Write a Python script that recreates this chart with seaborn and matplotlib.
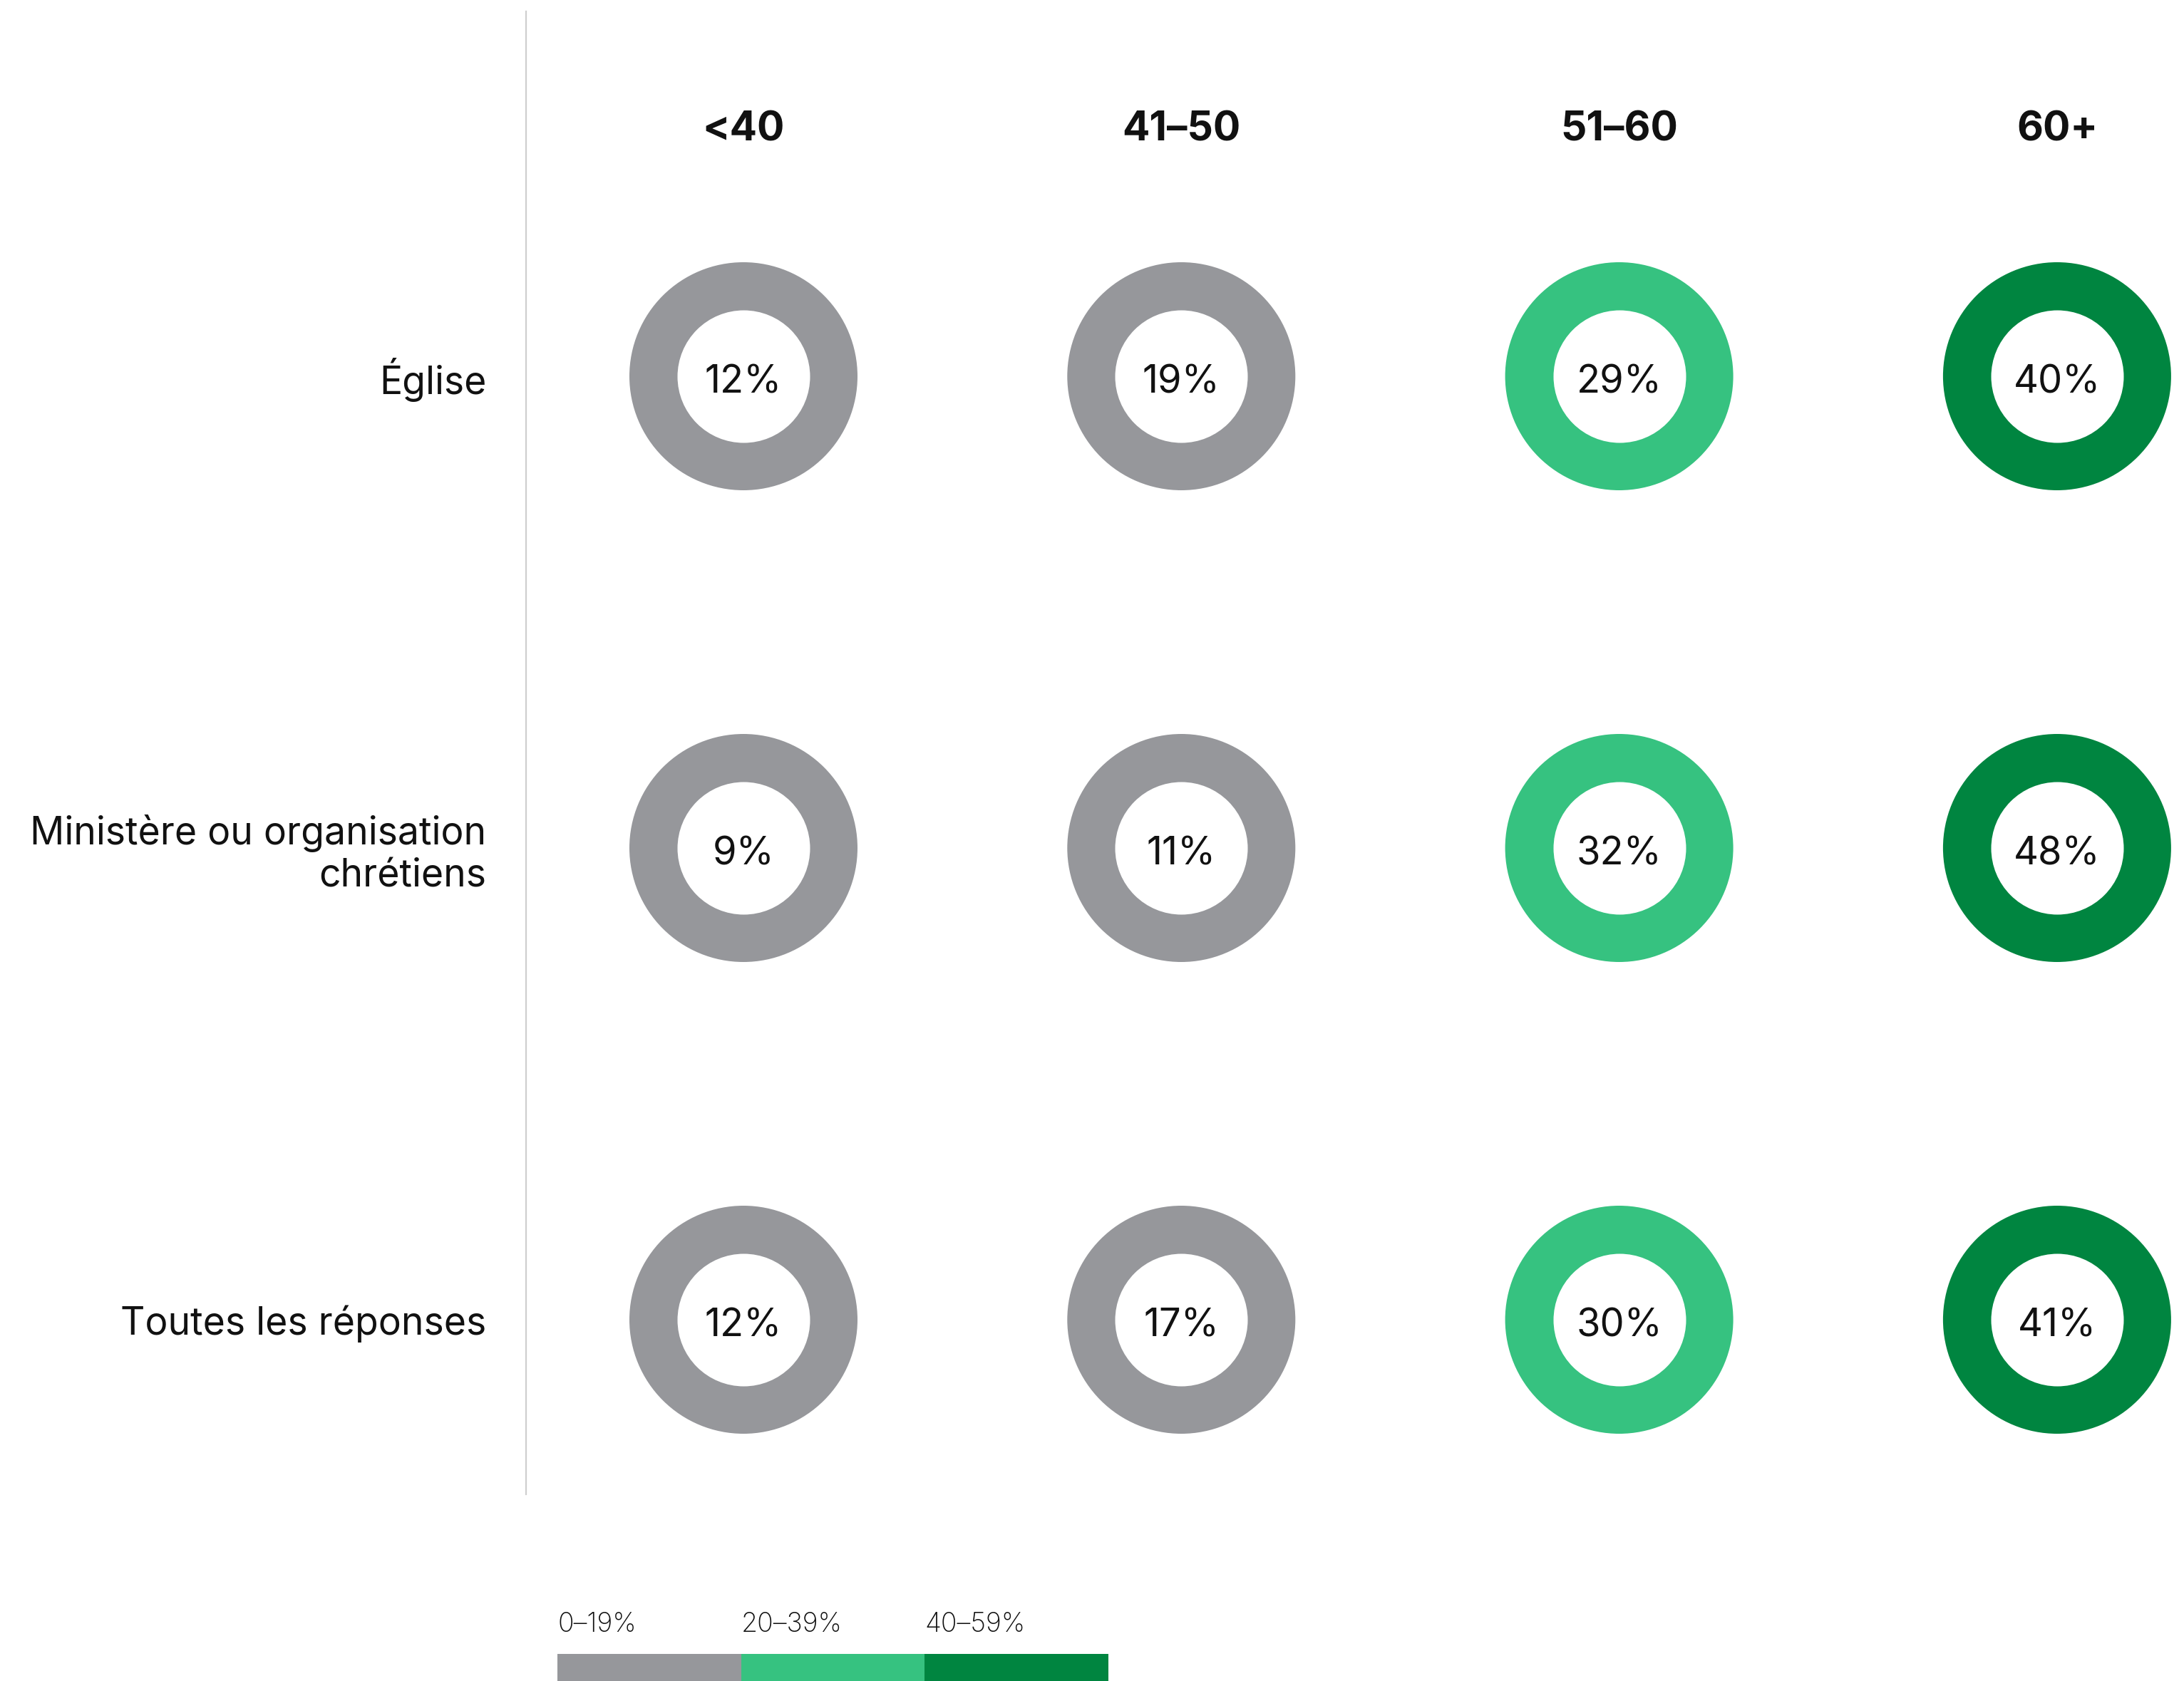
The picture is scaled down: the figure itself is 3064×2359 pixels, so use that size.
import numpy as np
import pandas as pd
import matplotlib
matplotlib.use("Agg")
import matplotlib.pyplot as plt
import seaborn as sns

# ---------------- data ----------------
age_groups = ["<40", "41–50", "51–60", "60+"]
row_labels = ["Église", "Ministère ou organisation\nchrétiens", "Toutes les réponses"]
values_eglise = [12, 19, 29, 40]
values_ministere = [9, 11, 32, 48]
values_toutes = [12, 17, 30, 41]
bin_labels = ["0–19%", "20–39%", "40–59%"]
bin_colors = ["#96979B", "#36C280", "#008540"]

# ---------------- style ----------------
sns.set_theme(style="white")
plt.rcParams["font.family"] = ["Inter", "DejaVu Sans"]

W, H = 3064, 2359
DPI = 100
fig = plt.figure(figsize=(W / DPI, H / DPI), dpi=DPI)
fig.patch.set_facecolor("white")

rows = []
for r, vals in enumerate([values_eglise, values_ministere, values_toutes]):
    for c, v in enumerate(vals):
        b = bin_labels[min(v // 20, len(bin_labels) - 1)]
        rows.append({"col": c, "row": r, "value": v, "bin": b})
df = pd.DataFrame(rows)

# main axes (pixel layout)
ax_left, ax_top, ax_right, ax_bottom = 738, 16, 3064, 2097
ax = fig.add_axes([ax_left / W, 1 - ax_bottom / H, (ax_right - ax_left) / W, (ax_bottom - ax_top) / H])

col_c0, col_step = 1043, 614.3
row_c0, row_step = 528, 662
outer_d = 320 * 72 / DPI   # points
inner_d = 186 * 72 / DPI

palette = dict(zip(bin_labels, bin_colors))
sns.scatterplot(data=df, x="col", y="row", hue="bin", palette=palette,
                s=outer_d ** 2, marker="o", linewidth=0, legend=False,
                ax=ax, clip_on=False, zorder=2)
sns.scatterplot(data=df, x="col", y="row", color="white",
                s=inner_d ** 2, marker="o", linewidth=0, legend=False,
                ax=ax, clip_on=False, zorder=3)

for _, rw in df.iterrows():
    ax.text(rw["col"], rw["row"] + 9 / row_step, f"{rw['value']}%", ha="center", va="center",
            fontsize=39, color="#111111", zorder=4)

ax.set_xlim(-(col_c0 - ax_left) / col_step, 3 + (ax_right - (col_c0 + 3 * col_step)) / col_step)
ax.set_ylim(2 + (ax_bottom - (row_c0 + 2 * row_step)) / row_step, -(row_c0 - ax_top) / row_step)

for i, g in enumerate(age_groups):
    ax.text(i, -(row_c0 - 182) / row_step, g, ha="center", va="center",
            fontsize=41, fontweight="bold", color="#111111")

ax.set_xticks([])
ax.set_yticks(range(len(row_labels)))
ax.set_yticklabels(row_labels, fontsize=38.5, color="#111111", linespacing=1.2)
ax.tick_params(axis="y", length=0, pad=40)
ax.set_xlabel("")
ax.set_ylabel("")
for s in ["top", "right", "bottom"]:
    ax.spines[s].set_visible(False)
ax.spines["left"].set_color("#CFCFCF")
ax.spines["left"].set_linewidth(1.6)
ax.set_facecolor("none")

# legend bar
lg_left, lg_right, lg_top = 782, 1555, 2321
lg_h = H - lg_top
lax = fig.add_axes([lg_left / W, 0, (lg_right - lg_left) / W, lg_h / H])
lax.barh([0, 0, 0], [1, 1, 1], left=[0, 1, 2], color=bin_colors, height=1.0, linewidth=0)
lax.set_xlim(0, 3)
lax.set_ylim(-0.5, 0.5)
lax.axis("off")
for i, lab in enumerate(bin_labels):
    lax.text(i, 0.5 + 41 / lg_h, lab, ha="left", va="center", fontsize=27,
             fontweight="light", color="#111111", clip_on=False)

fig.savefig("out.png", dpi=DPI, facecolor="white")
